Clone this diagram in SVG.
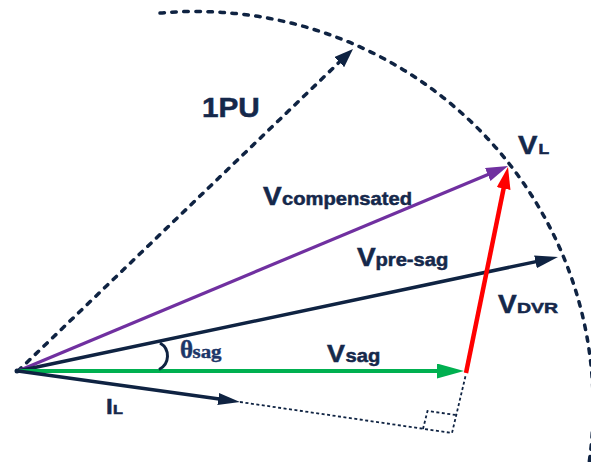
<svg xmlns="http://www.w3.org/2000/svg" width="591" height="462" viewBox="0 0 591 462">
<style>
.lbl{font-family:"Liberation Sans",Arial,sans-serif;font-weight:bold;fill:#15284b;stroke:#15284b;stroke-width:0.5}
.th{font-family:"Liberation Serif","Times New Roman",serif;font-weight:bold;fill:#1c3668;stroke:#1c3668;stroke-width:0.4}
.dash{fill:none;stroke:#0f2342;stroke-width:3.5;stroke-linecap:round;stroke-dasharray:4.5 7.5}
.dot{fill:none;stroke:#0f2342;stroke-width:1.8;stroke-dasharray:3 2.5}
</style>
<defs>
<marker id="aG" viewBox="0 0 27 15" refX="17" refY="7.5" markerWidth="27" markerHeight="15" markerUnits="userSpaceOnUse" orient="auto"><path d="M0,0 L27,7.5 L0,15 z" fill="#00b050"/></marker>
<marker id="aN" viewBox="0 0 23 13" refX="13" refY="6.5" markerWidth="23" markerHeight="13" markerUnits="userSpaceOnUse" orient="auto"><path d="M0,0 L23,6.5 L0,13 z" fill="#0f2342"/></marker>
<marker id="aP" viewBox="0 0 22 14" refX="12" refY="7" markerWidth="22" markerHeight="14" markerUnits="userSpaceOnUse" orient="auto"><path d="M0,0 L22,7 L0,14 z" fill="#7030a0"/></marker>
<marker id="aR" viewBox="0 0 22 14" refX="12" refY="7" markerWidth="22" markerHeight="14" markerUnits="userSpaceOnUse" orient="auto"><path d="M0,0 L22,7 L0,14 z" fill="#ff0000"/></marker>
<marker id="aI" viewBox="0 0 22 12" refX="12" refY="6" markerWidth="22" markerHeight="12" markerUnits="userSpaceOnUse" orient="auto"><path d="M0,0 L22,6 L0,12 z" fill="#0f2342"/></marker>
<marker id="aU" viewBox="0 0 19 14" refX="9" refY="7" markerWidth="19" markerHeight="14" markerUnits="userSpaceOnUse" orient="auto"><path d="M0,0 L19,7 L0,14 z" fill="#0f2342"/></marker>
</defs>
<g id="circle-1pu">
<path class="dash" d="M160,13 A398 395 0 0 1 588,470"/>
</g>
<g id="connectors">
<path id="ref-1pu" class="dash" d="M18,371 L345.8,55.9" marker-end="url(#aU)"/>
<path id="il-ext" class="dot" d="M240,402 L452,433 L466,374"/>
<path id="right-angle" class="dot" d="M423,429 L427.5,411 L456,415"/>
<path id="v-compensated" d="M18,371 L498.8,169.9" stroke="#7030a0" stroke-width="3.2" fill="none" marker-end="url(#aP)"/>
<path id="v-presag" d="M18,371 L548.2,259.1" stroke="#0f2342" stroke-width="3.5" fill="none" marker-end="url(#aN)"/>
<path id="v-sag" d="M18,371 L454,371" stroke="#00b050" stroke-width="4" fill="none" marker-end="url(#aG)"/>
<path id="v-dvr" d="M466,373 L506,176.8" stroke="#ff0000" stroke-width="4.5" fill="none" marker-end="url(#aR)"/>
<path id="i-l" d="M18,371 L230.1,400.6" stroke="#0f2342" stroke-width="3.5" fill="none" marker-end="url(#aI)"/>
<path id="theta-arc" d="M160,343 A15 15 0 0 1 159,369.5" stroke="#0f2342" stroke-width="3" fill="none"/>
<circle cx="17" cy="371" r="2.5" fill="#0f2342"/>
</g>
<g id="label-1pu"><text class="lbl" font-size="27" transform="translate(202,117) scale(1.1,1)">1PU</text></g>
<g id="label-vl">
<text class="lbl" font-size="26" transform="translate(518,154) scale(1.12,1)">V</text>
<text class="lbl" font-size="14" transform="translate(538.5,154) scale(1.25,1)">L</text>
</g>
<g id="label-vcomp">
<text class="lbl" font-size="25" transform="translate(263,205) scale(1.12,1)">V</text>
<text class="lbl" font-size="18" transform="translate(282,205) scale(1.12,1)">compensated</text>
</g>
<g id="label-vpresag">
<text class="lbl" font-size="25" transform="translate(357,266) scale(1.12,1)">V</text>
<text class="lbl" font-size="18" transform="translate(375.5,266) scale(1.12,1)">pre-sag</text>
</g>
<g id="label-vdvr">
<text class="lbl" font-size="25" transform="translate(498,313) scale(1.12,1)">V</text>
<text class="lbl" font-size="15" transform="translate(517,313) scale(1.3,1)">DVR</text>
</g>
<g id="label-vsag">
<text class="lbl" font-size="24" transform="translate(327,362) scale(1.12,1)">V</text>
<text class="lbl" font-size="18" transform="translate(345.5,362) scale(1.12,1)">sag</text>
</g>
<g id="label-il">
<text class="lbl" font-size="22" transform="translate(106,414) scale(1.1,1)">I</text>
<text class="lbl" font-size="12" transform="translate(113,414) scale(1.35,1)">L</text>
</g>
<g id="label-theta">
<text class="th" font-size="25" transform="translate(180,358)">θ</text>
<text class="th" font-size="19" transform="translate(192.5,358) scale(1.1,1)">sag</text>
</g>
</svg>
